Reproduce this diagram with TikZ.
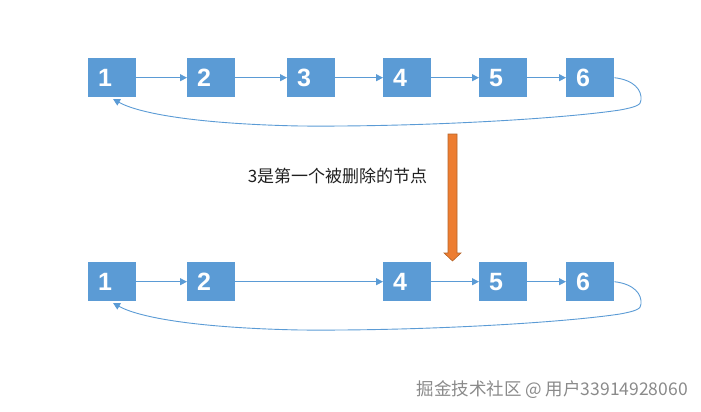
\documentclass[tikz,border=0pt]{standalone}
\usepackage{fontspec}
\setmainfont{Liberation Sans}
\newfontfamily\cjk{Noto Sans CJK SC}
\usetikzlibrary{arrows.meta}
\definecolor{boxblue}{HTML}{5B9BD5}
\definecolor{lineblue}{HTML}{5B9BD5}
\definecolor{orangefill}{HTML}{ED7D31}
\definecolor{orangeedge}{HTML}{B5642A}
\definecolor{wmgray}{HTML}{8A8A8A}
\tikzset{
  nbox/.style={fill=boxblue, draw=none, minimum width=48pt, minimum height=39pt, inner sep=0pt, anchor=north west},
  nlabel/.style={text=white, font=\fontsize{25}{25}\selectfont\bfseries, anchor=west, inner sep=0pt},
  link/.style={draw=lineblue, line width=0.9pt, -{Triangle[length=7pt,width=7pt]}},
}
\begin{document}
\begin{tikzpicture}[x=1pt,y=-1pt]
\useasboundingbox (0,0) rectangle (701,412);
% ---- top row ----
\node[nbox] (a1) at (88,58) {};
\node[nbox] (a2) at (187,58) {};
\node[nbox] (a3) at (287,58) {};
\node[nbox] (a4) at (383,58) {};
\node[nbox] (a5) at (479,58) {};
\node[nbox] (a6) at (566,58) {};
\foreach \i in {1,...,6} {\node[nlabel] (ta\i) at ([xshift=10pt]a\i.west) {\i};}
\draw[link] (a1.east) -- (a2.west);
\draw[link] (a2.east) -- (a3.west);
\draw[link] (a3.east) -- (a4.west);
\draw[link] (a4.east) -- (a5.west);
\draw[link] (a5.east) -- (a6.west);
\coordinate (ae) at (113,99);
\draw[link] (a6.east) .. controls (634,80) and (642,90) .. (641,100)
  .. controls (641,105) and (636,107) .. (620,110)
  .. controls (560,119) and (420,127) .. (300,126)
  .. controls (200,124) and (140,114) .. (ae);
% ---- bottom row ----
\node[nbox] (b1) at (88,262) {};
\node[nbox] (b2) at (187,262) {};
\node[nbox] (b4) at (383,262) {};
\node[nbox] (b5) at (479,262) {};
\node[nbox] (b6) at (566,262) {};
\foreach \i in {1,2,4,5,6} {\node[nlabel] (tb\i) at ([xshift=10pt]b\i.west) {\i};}
\draw[link] (b1.east) -- (b2.west);
\draw[link] (b2.east) -- (b4.west);
\draw[link] (b4.east) -- (b5.west);
\draw[link] (b5.east) -- (b6.west);
\coordinate (be) at (113,303);
\draw[link] (b6.east) .. controls (634,284) and (642,294) .. (641,304)
  .. controls (641,309) and (636,311) .. (620,314)
  .. controls (560,323) and (420,331) .. (300,330)
  .. controls (200,328) and (140,318) .. (be);
% ---- orange arrow ----
\draw[fill=orangefill, draw=orangeedge, line width=0.6pt]
  (448,134) -- (457,134) -- (457,253) -- (461,253) -- (452.5,261) -- (444,253) -- (448,253) -- cycle;
\node[font=\cjk\fontsize{17}{17}\selectfont, text=black!88, inner sep=0pt] (cap) at (337.5,176) {3是第一个被删除的节点};
% ---- watermark ----
\node[font=\cjk\fontsize{17.5}{17.5}\selectfont, text=wmgray, anchor=east, inner sep=0pt] (wm) at (688,390) {掘金技术社区 @ 用户33914928060};
\end{tikzpicture}
\end{document}
